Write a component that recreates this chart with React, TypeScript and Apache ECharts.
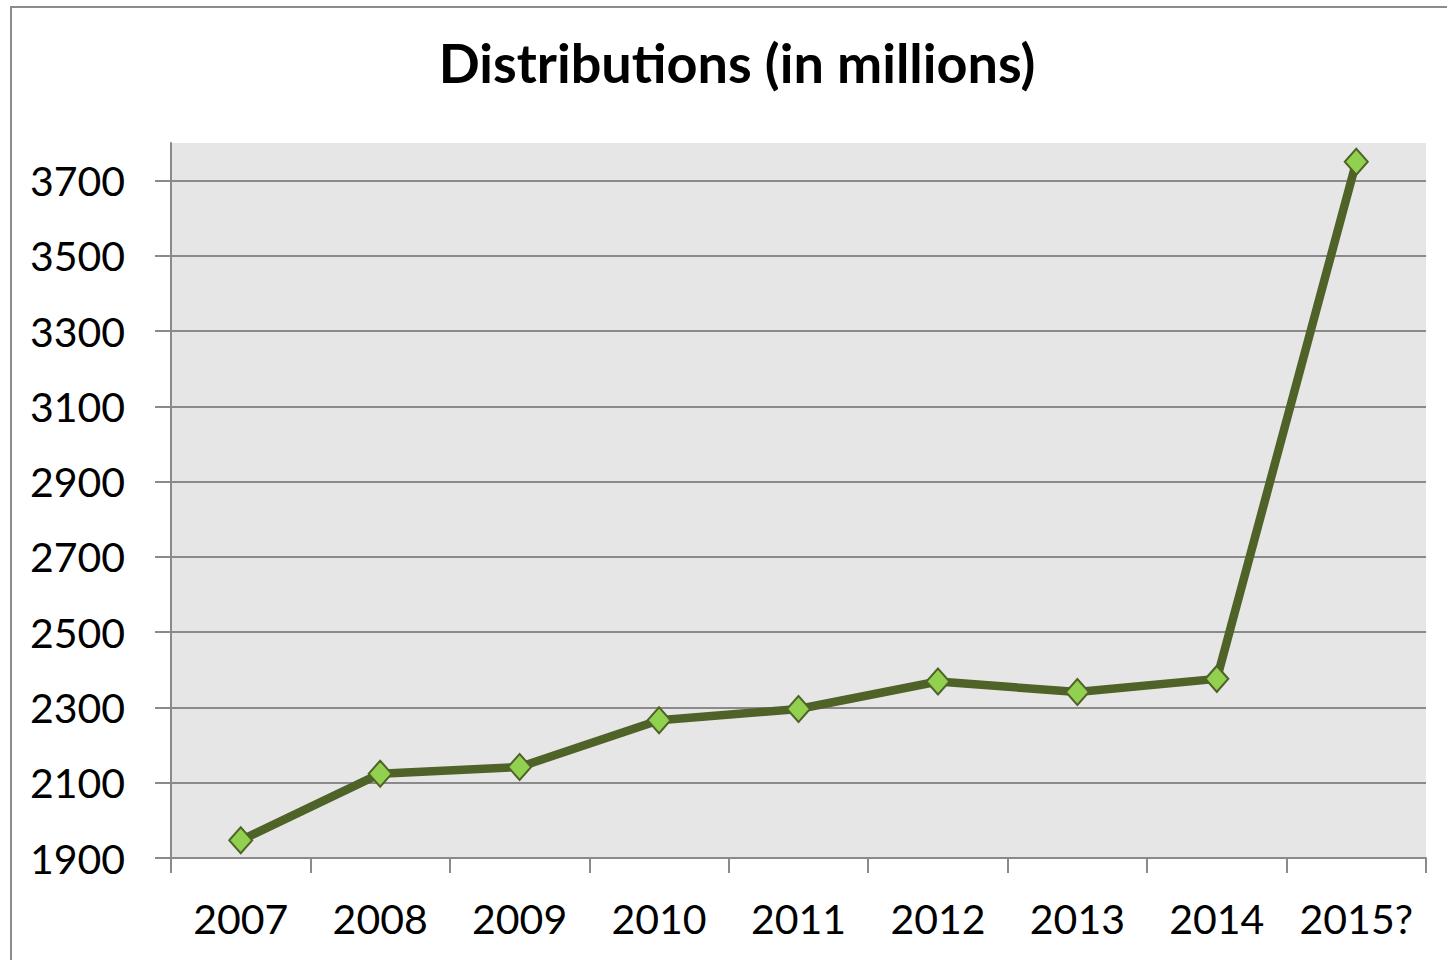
import React, { useEffect, useRef } from "react";
import * as echarts from "echarts";

const titleText = "Distributions (in millions)";
const categories = ["2007", "2008", "2009", "2010", "2011", "2012", "2013", "2014", "2015?"];
const values = [1947, 2124, 2142, 2266, 2296, 2369, 2341, 2376, 3750];
const yTicks = [1900, 2100, 2300, 2500, 2700, 2900, 3100, 3300, 3500, 3700];
const yMin = 1900;
const yMax = 3800;

export default function App() {
  const ref = useRef<HTMLDivElement>(null);
  useEffect(() => {
    if (!ref.current) return;
    const chart = echarts.init(ref.current, undefined, { renderer: "svg" });
    const font = "Lato, 'Open Sans', sans-serif";
    const gridColor = "#8a8a8a";
    chart.setOption({
      animation: false,
      backgroundColor: "#ffffff",
      title: {
        text: titleText,
        left: 732,
        textAlign: "center",
        top: 30,
        textStyle: { fontFamily: font, fontWeight: "bold", fontSize: 54, color: "#000" },
      },
      graphic: [
        {
          type: "rect",
          shape: { x: 11, y: 7, width: 1460, height: 980 },
          style: { fill: "none", stroke: "#8c8c8c", lineWidth: 2 },
          silent: true,
          z: -1,
        },
      ],
      grid: {
        left: 171,
        right: 21,
        top: 143,
        bottom: 102,
        show: true,
        backgroundColor: "#e6e6e6",
        borderWidth: 0,
      },
      xAxis: {
        type: "category",
        data: categories,
        boundaryGap: true,
        axisLine: { show: true, lineStyle: { color: gridColor, width: 2 } },
        axisTick: { show: true, length: 15, alignWithLabel: false, lineStyle: { color: gridColor, width: 2 } },
        axisLabel: { fontFamily: font, fontSize: 41, color: "#000", margin: 40, interval: 0 },
        splitLine: { show: false },
      },
      yAxis: {
        type: "value",
        min: yMin,
        max: yMax,
        axisLine: { show: true, lineStyle: { color: gridColor, width: 2 } },
        axisTick: { show: true, length: 16, customValues: yTicks, lineStyle: { color: gridColor, width: 2 } },
        axisLabel: {
          fontFamily: font,
          fontSize: 41,
          color: "#000",
          margin: 46,
          customValues: yTicks,
          formatter: (v: number) => String(v),
        },
        splitLine: {
          show: true,
          lineStyle: {
            color: yTicks.map(() => gridColor).concat(["rgba(0,0,0,0)"]),
            width: 2,
          },
        },
      },
      series: [
        {
          type: "line",
          data: values,
          symbol: "diamond",
          symbolSize: [23, 26],
          lineStyle: { color: "#4f6228", width: 8.5 },
          itemStyle: { color: "#92d050", borderColor: "#4f6228", borderWidth: 2 },
        },
      ],
    });
    return () => chart.dispose();
  }, []);
  return (
    <div
      ref={ref}
      style={{ position: "absolute", left: 0, top: 0, width: 1447, height: 960 }}
    />
  );
}
